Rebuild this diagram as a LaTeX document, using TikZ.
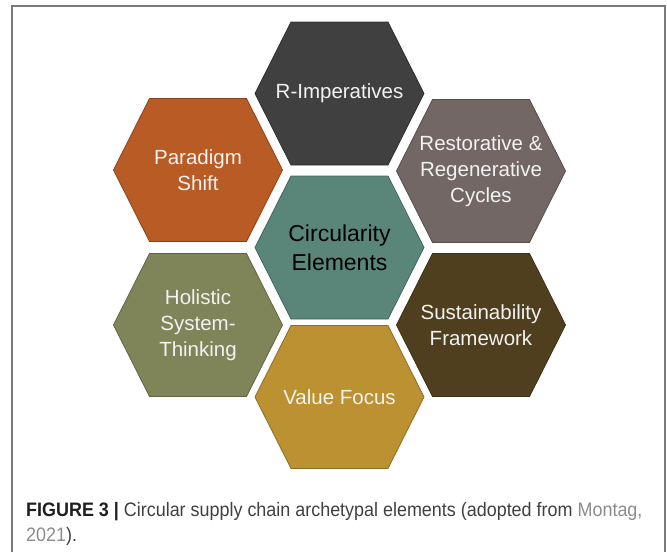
\documentclass[tikz,border=0pt]{standalone}
\usepackage{fontspec}
\setmainfont{Liberation Sans}
\newfontfamily\capfont[FakeStretch=0.92]{Liberation Sans}
\usetikzlibrary{calc}

\definecolor{framegray}{HTML}{7A7A7A}
\definecolor{rimpgray}{HTML}{404040}
\definecolor{restorgray}{HTML}{736765}
\definecolor{sustbrown}{HTML}{503F1E}
\definecolor{valuegold}{HTML}{BC9131}
\definecolor{holiolive}{HTML}{7F8559}
\definecolor{paraorange}{HTML}{B85B24}
\definecolor{circteal}{HTML}{5A867A}
\definecolor{captext}{HTML}{404040}
\definecolor{linkgray}{HTML}{8C8C8C}

\begin{document}
\begin{tikzpicture}[x=1pt, y=-1pt,
    hexlabel/.style={align=center, font=\fontsize{20.5}{26}\selectfont},
    corelabel/.style={align=center, font=\fontsize{23}{29}\selectfont}]
    \useasboundingbox (0,0) rectangle (667,552);

    % Frame around the figure, open at the bottom.
    \draw[framegray, line width=1.6pt] (12,552) -- (12,6) -- (665,6) -- (665,552);

    % Half width, half height and half top edge of one hexagon.
    \def\hexw{84.5}
    \def\hexh{71.5}
    \def\hext{48.5}

    % The seven hexagons with their labels.
    \foreach \name/\cx/\cy/\col/\tc/\txt in {
        rimp/339.5/93.5/rimpgray/white/{R-Imperatives},
        restor/481/171/restorgray/white/{Restorative \&\\Regenerative\\Cycles},
        sust/481/325/sustbrown/white/{Sustainability\\Framework},
        value/339.5/397/valuegold/white/{Value Focus},
        holi/198/325/holiolive/white/{Holistic\\System-\\Thinking},
        para/198/170/paraorange/white/{Paradigm\\Shift}} {
        \filldraw[fill=\col, draw=\col!75!black, line width=0.8pt]
            (\cx-\hexw,\cy) -- (\cx-\hext,\cy-\hexh) -- (\cx+\hext,\cy-\hexh)
            -- (\cx+\hexw,\cy) -- (\cx+\hext,\cy+\hexh) -- (\cx-\hext,\cy+\hexh) -- cycle;
        \node[hexlabel, text=\tc!95!black] (\name) at (\cx,\cy) {\txt};
    }

    % Centre hexagon.
    \coordinate (O) at (339.5,247.5);
    \filldraw[fill=circteal, draw=circteal!75!black, line width=0.8pt]
        ($(O)+(-\hexw,0)$) -- ($(O)+(-\hext,-\hexh)$) -- ($(O)+(\hext,-\hexh)$)
        -- ($(O)+(\hexw,0)$) -- ($(O)+(\hext,\hexh)$) -- ($(O)+(-\hext,\hexh)$) -- cycle;
    \node[corelabel, text=black] (circ) at (O) {Circularity\\Elements};

    % Caption below the diagram (base anchor sits on the last line).
    \node[anchor=base west, align=left, inner sep=0pt, text=captext,
          font=\capfont\fontsize{19.5}{24.5}\selectfont] (caption) at (26,541)
        {{\bfseries\color{black!88}FIGURE 3 |} Circular supply chain archetypal elements (adopted from {\color{linkgray}Montag,}\\{\color{linkgray}2021}).};
\end{tikzpicture}
\end{document}
